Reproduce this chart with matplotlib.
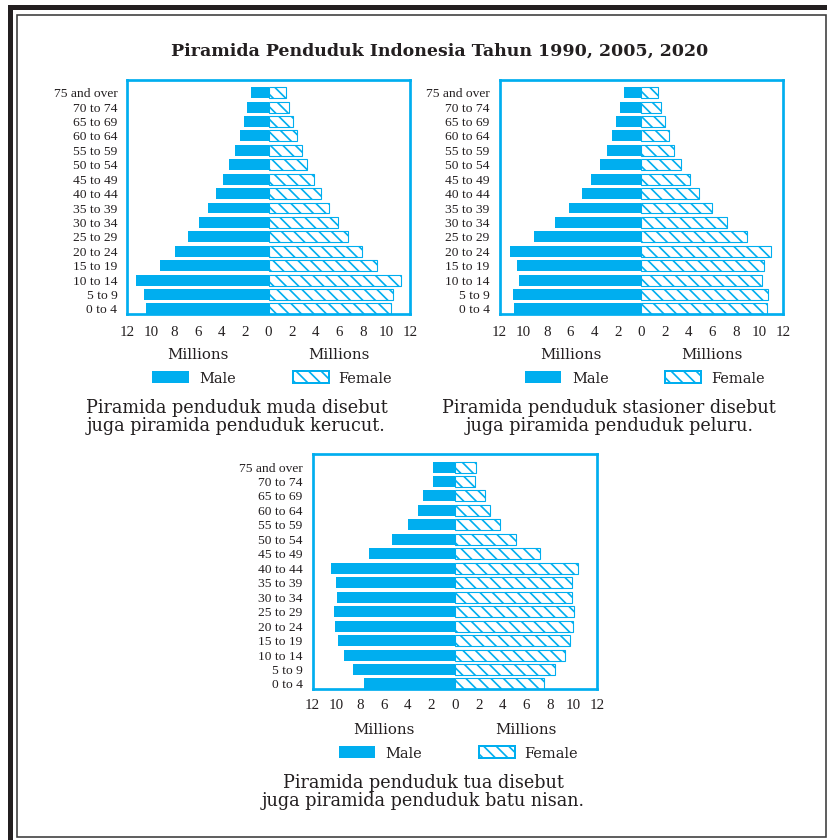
import matplotlib
matplotlib.use('Agg')
import matplotlib.pyplot as plt
from matplotlib.patches import Rectangle

W, H = 827, 840
DPI = 150
P = 72 / DPI  # points per pixel

CYAN = '#00AEEF'
DARK = '#231f20'

age_groups = ['0 to 4', '5 to 9', '10 to 14', '15 to 19', '20 to 24', '25 to 29',
              '30 to 34', '35 to 39', '40 to 44', '45 to 49', '50 to 54', '55 to 59',
              '60 to 64', '65 to 69', '70 to 74', '75 and over']

male_1990 = [10.42, 10.62, 11.27, 9.24, 7.99, 6.82, 5.95, 5.12, 4.48, 3.88, 3.37, 2.86, 2.46, 2.10, 1.81, 1.47]
female_1990 = [10.37, 10.59, 11.24, 9.18, 7.96, 6.77, 5.92, 5.10, 4.44, 3.88, 3.29, 2.86, 2.44, 2.04, 1.76, 1.44]
male_2005 = [10.82, 10.91, 10.40, 10.57, 11.16, 9.13, 7.35, 6.10, 5.06, 4.24, 3.53, 2.94, 2.52, 2.12, 1.84, 1.50]
female_2005 = [10.68, 10.76, 10.25, 10.42, 11.02, 8.98, 7.23, 5.99, 4.89, 4.13, 3.36, 2.80, 2.35, 2.01, 1.69, 1.38]
male_2020 = [7.64, 8.59, 9.35, 9.83, 10.08, 10.17, 9.97, 10.00, 10.45, 7.27, 5.28, 3.93, 3.09, 2.70, 1.85, 1.85]
female_2020 = [7.47, 8.45, 9.24, 9.69, 9.94, 10.00, 9.83, 9.83, 10.34, 7.16, 5.11, 3.79, 2.95, 2.55, 1.71, 1.74]

xticks = [-12, -10, -8, -6, -4, -2, 0, 2, 4, 6, 8, 10, 12]
xtick_labels = [str(abs(v)) for v in xticks]

title = 'Piramida Penduduk Indonesia Tahun 1990, 2005, 2020'
captions = {
    '1990': ['Piramida penduduk muda disebut', 'juga piramida penduduk kerucut.'],
    '2005': ['Piramida penduduk stasioner disebut', 'juga piramida penduduk peluru.'],
    '2020': ['Piramida penduduk tua disebut', 'juga piramida penduduk batu nisan.'],
}

plt.rcParams['hatch.color'] = CYAN
plt.rcParams['hatch.linewidth'] = 0.8

fig = plt.figure(figsize=(W / DPI, H / DPI), dpi=DPI)
bg = fig.add_axes([0, 0, 1, 1])
bg.set_xlim(0, W)
bg.set_ylim(H, 0)
bg.axis('off')

# page frame
bg.add_patch(Rectangle((8, 5), W - 8, 5, color=DARK, lw=0))
bg.add_patch(Rectangle((8, 5), 5, H - 5, color=DARK, lw=0))
bg.add_patch(Rectangle((16.8, 14.8), 809, 822, fill=False, edgecolor='#3a3a3a', lw=1.6 * P))

bg.text(440, 56, title, ha='center', va='baseline', family='DejaVu Serif',
        fontweight='bold', fontsize=17.4 * P, color=DARK)

SERIF = 'Liberation Serif'
CAPF = 'DejaVu Serif'

panels = [
    ('1990', male_1990, female_1990, (127.3, 79.7, 409.8, 313.7), 12.5),
    ('2005', male_2005, female_2005, (499.7, 79.7, 783.0, 313.7), 12.5),
    ('2020', male_2020, female_2020, (312.7, 454.0, 597.3, 688.7), 10.5),
]

ypos = list(range(len(age_groups)))
for year, male, female, (l, t, r, b), tpad in panels:
    ax = fig.add_axes([l / W, 1 - b / H, (r - l) / W, (b - t) / H])
    ax.barh(ypos, [-m for m in male], height=0.76, color=CYAN, edgecolor=CYAN, linewidth=0)
    ax.barh(ypos, female, height=0.76, color='white', edgecolor=CYAN, hatch='\\\\\\\\',
            linewidth=1.1 * P)
    ax.set_xlim(-12, 12)
    ax.set_ylim(-0.33, 15.9)
    ax.set_xticks(xticks, xtick_labels, family=SERIF, fontsize=15 * P, color=DARK)
    ax.set_yticks(ypos, age_groups, family=SERIF, fontsize=13.5 * P, color=DARK)
    ax.tick_params(axis='x', length=0, pad=tpad * P)
    ax.tick_params(axis='y', length=0, pad=10 * P)
    for sp in ax.spines.values():
        sp.set_color(CYAN)
        sp.set_linewidth(2.7 * P)
    ax.set_facecolor('white')

    cx = (l + r) / 2
    u = (r - l) / 24
    bg.text(l + 17.5, t + 20.5, year, ha='left', va='center', family=SERIF,
            fontsize=17.5 * P, color=DARK)
    for s in (-1, 1):
        bg.text(cx + s * 6 * u, b + 45.5, 'Millions', ha='center', va='baseline',
                family=CAPF, fontsize=15 * P, color=DARK)
    yl = b + 63
    bg.add_patch(Rectangle((cx - 116.5, yl - 6), 36.5, 12, facecolor=CYAN, edgecolor=CYAN, lw=0))
    bg.add_patch(Rectangle((cx + 24, yl - 6), 36, 12, facecolor='white', edgecolor=CYAN,
                           hatch='\\\\\\\\', lw=2 * P))
    bg.text(cx - 69.5, b + 69.5, 'Male', ha='left', va='baseline', family=CAPF,
            fontsize=14.5 * P, color=DARK)
    bg.text(cx + 69.5, b + 69.5, 'Female', ha='left', va='baseline', family=CAPF,
            fontsize=14.5 * P, color=DARK)
    c1, c2 = captions[year]
    bg.text(cx - 32, b + 99, c1, ha='center', va='baseline', family=CAPF,
            fontsize=17.6 * P, color=DARK)
    bg.text(cx - 32, b + 117.5, c2, ha='center', va='baseline', family=CAPF,
            fontsize=17.6 * P, color=DARK)

fig.savefig('out.png', dpi=DPI)
